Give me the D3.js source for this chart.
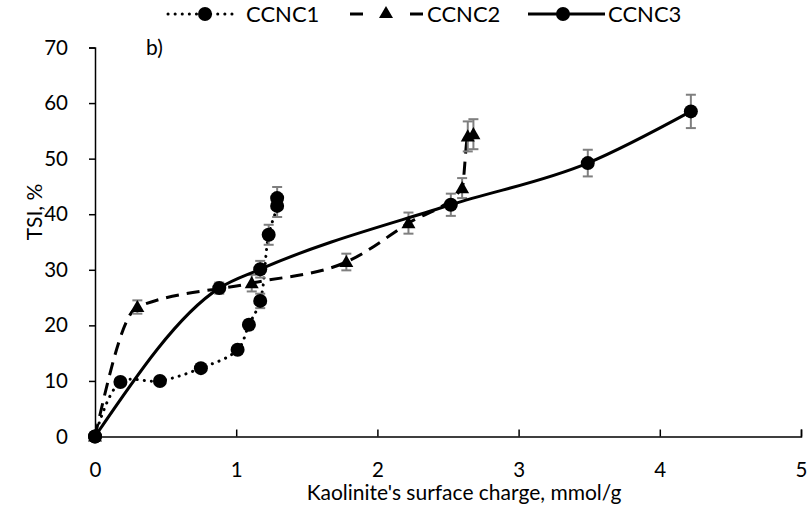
<!DOCTYPE html>
<html><head><meta charset="utf-8">
<script src="https://cdn.jsdelivr.net/npm/d3@7"></script>
<style>
body{margin:0;background:#fff;}
text{font-family:Lato,"Open Sans",sans-serif;fill:#000;}
</style></head>
<body><svg id="c" width="807" height="510"></svg>
<script>
const seriesNames = ["CCNC1","CCNC2","CCNC3"];
const ccnc1X = [0, 0.18, 0.46, 0.75, 1.01, 1.09, 1.17, 1.23, 1.29, 1.29];
const ccnc1Y = [0, 9.8, 10.0, 12.3, 15.6, 20.1, 24.4, 36.3, 41.5, 42.9];
const ccnc1Err = [0, 0.5, 0.5, 0.5, 0.6, 0.8, 1.3, 1.8, 2.0, 2.0];
const ccnc2X = [0, 0.30, 1.11, 1.78, 2.22, 2.60, 2.64, 2.68];
const ccnc2Y = [0, 23.3, 27.6, 31.4, 38.4, 44.7, 54.0, 54.4];
const ccnc2Err = [0, 1.2, 1.5, 1.5, 1.9, 1.8, 2.7, 2.7];
const ccnc3X = [0, 0.88, 1.17, 2.52, 3.49, 4.22];
const ccnc3Y = [0, 26.7, 30.1, 41.7, 49.2, 58.5];
const ccnc3Err = [0, 1.0, 1.5, 2.0, 2.4, 3.0];
const xTicks = [0,1,2,3,4,5];
const yTicks = [0,10,20,30,40,50,60,70];
const xTitle = "Kaolinite's surface charge, mmol/g";
const yTitle = "TSI, %";
const panelLabel = "b)";

const svg = d3.select("#c");
const x = d3.scaleLinear().domain([0,5]).range([95,801]);
const y = d3.scaleLinear().domain([0,70]).range([436.5,47.5]);

// axes
const xAxis = svg.append("g").attr("transform",`translate(0,${y(0)})`)
  .call(d3.axisBottom(x).tickValues(xTicks).tickSize(-7).tickPadding(26).tickFormat(d3.format("d")));
const yAxis = svg.append("g").attr("transform",`translate(${x(0)},0)`)
  .call(d3.axisLeft(y).tickValues(yTicks).tickSize(6).tickPadding(21).tickFormat(d3.format("d")));
[xAxis,yAxis].forEach(a=>{
  a.select(".domain").attr("stroke","#000").attr("stroke-width",1.5);
  a.selectAll(".tick line").attr("stroke","#000").attr("stroke-width",1.5);
  a.selectAll("text").attr("font-size",20.5).attr("font-family","Lato");
});

svg.append("text").attr("x",464).attr("y",500).attr("text-anchor","middle").attr("font-size",21).text(xTitle);
svg.append("text").attr("transform","translate(42,212) rotate(-90)").attr("text-anchor","middle").attr("font-size",21).text(yTitle);
svg.append("text").attr("x",146).attr("y",55).attr("font-size",21).text(panelLabel);

const series = [
  {name:seriesNames[0], xs:ccnc1X, ys:ccnc1Y, es:ccnc1Err, dash:"0.1 7", cap:"round", marker:"circle", curve:d3.curveCatmullRom.alpha(0.5)},
  {name:seriesNames[1], xs:ccnc2X, ys:ccnc2Y, es:ccnc2Err, dash:"13 8", cap:"butt", marker:"triangle", curve:d3.curveMonotoneX},
  {name:seriesNames[2], xs:ccnc3X, ys:ccnc3Y, es:ccnc3Err, dash:null, cap:"butt", marker:"circle", curve:d3.curveMonotoneX}
];
const tri = d3.symbol().type(d3.symbolTriangle).size(85);

series.forEach(s=>{
  const pts = s.xs.map((v,i)=>[v,s.ys[i],s.es[i]]);
  const line = d3.line().x(d=>x(d[0])).y(d=>y(d[1])).curve(s.curve);
  svg.append("path").datum(pts).attr("d",line).attr("fill","none").attr("stroke","#000")
    .attr("stroke-width",3).attr("stroke-dasharray",s.dash).attr("stroke-linecap",s.cap);
  const eb = svg.append("g").attr("stroke","#7f7f7f").attr("stroke-width",2);
  pts.filter(p=>p[2]>0).forEach(p=>{
    eb.append("line").attr("x1",x(p[0])).attr("x2",x(p[0])).attr("y1",y(p[1]-p[2])).attr("y2",y(p[1]+p[2]));
    [p[1]-p[2],p[1]+p[2]].forEach(v=>eb.append("line").attr("x1",x(p[0])-5).attr("x2",x(p[0])+5).attr("y1",y(v)).attr("y2",y(v)));
  });
  const g = svg.append("g");
  if(s.marker==="circle"){
    g.selectAll("circle").data(pts).join("circle").attr("cx",d=>x(d[0])).attr("cy",d=>y(d[1])).attr("r",7).attr("fill","#000");
  } else {
    g.selectAll("path").data(pts).join("path").attr("d",tri).attr("transform",d=>`translate(${x(d[0])},${y(d[1])+1})`).attr("fill","#000");
  }
});

// legend
const leg = [
  {x1:168,x2:237,mx:205,tx:246},
  {x1:350,x2:423,mx:386,tx:427},
  {x1:528,x2:605,mx:563,tx:608}
];
series.forEach((s,i)=>{
  const L = leg[i], ly = 14;
  if(i===1){
    svg.append("line").attr("x1",350).attr("x2",363).attr("y1",ly).attr("y2",ly).attr("stroke","#000").attr("stroke-width",3);
    svg.append("line").attr("x1",410).attr("x2",423).attr("y1",ly).attr("y2",ly).attr("stroke","#000").attr("stroke-width",3);
    svg.append("path").attr("d",tri).attr("transform",`translate(${L.mx},${ly})`).attr("fill","#000");
  } else {
    svg.append("line").attr("x1",L.x1).attr("x2",L.x2).attr("y1",ly).attr("y2",ly).attr("stroke","#000")
      .attr("stroke-width",3).attr("stroke-dasharray",s.dash).attr("stroke-linecap",s.cap);
    svg.append("circle").attr("cx",L.mx).attr("cy",ly).attr("r",7).attr("fill","#000");
  }
  svg.append("text").attr("x",L.tx).attr("y",ly).attr("dy","0.35em").attr("font-size",22).text(s.name);
});
</script></body></html>
